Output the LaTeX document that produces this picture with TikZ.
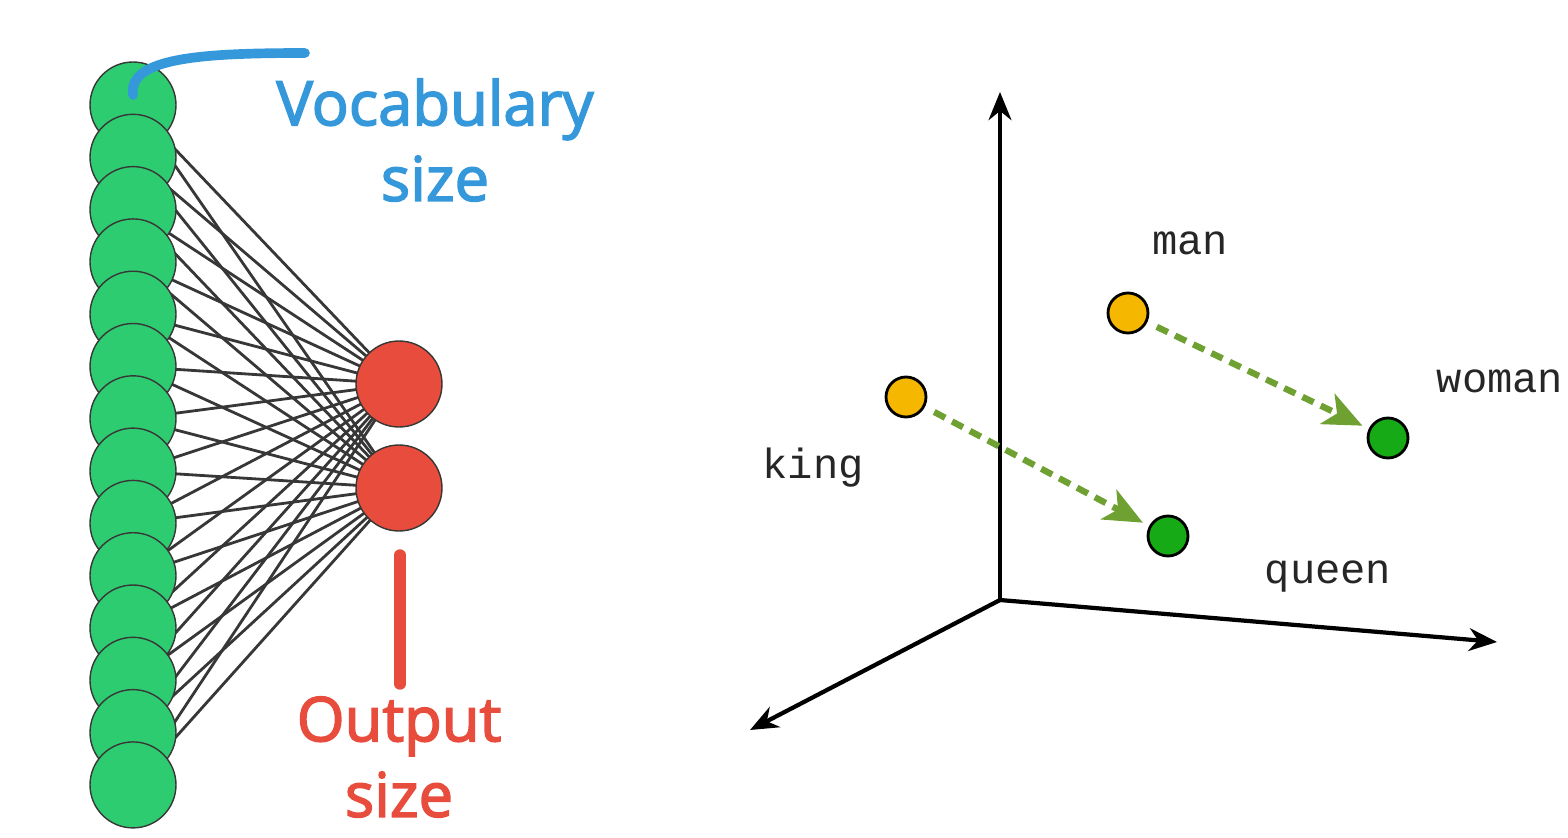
\documentclass[tikz,border=0pt]{standalone}
\usepackage{fontspec}
\setmainfont{Open Sans}
\setmonofont{Liberation Mono}
\newfontfamily\labelfont[FakeBold=2.5]{Open Sans}
\usetikzlibrary{arrows.meta,backgrounds}

\definecolor{vocabgreen}{RGB}{46,204,113}
\definecolor{outred}{RGB}{231,76,60}
\definecolor{labelblue}{RGB}{52,152,219}
\definecolor{wordorange}{RGB}{245,183,0}
\definecolor{wordgreen}{RGB}{22,170,22}
\definecolor{vecgreen}{RGB}{110,160,50}
\definecolor{edgegray}{RGB}{55,55,55}

\begin{document}
\begin{tikzpicture}[>={Stealth[length=16pt,width=13pt]},x=0.02cm,y=-0.02cm,
    vocab/.style={circle,draw=edgegray,line width=0.8pt,fill=vocabgreen,minimum size=1.72cm,inner sep=0pt},
    outnode/.style={circle,draw=edgegray,line width=0.8pt,fill=outred,minimum size=1.72cm,inner sep=0pt},
    edge/.style={edgegray,line width=1.6pt},
    wordpt/.style={circle,draw=black,line width=1.6pt,minimum size=0.8cm,inner sep=0pt},
    wordlbl/.style={font=\fontsize{24}{28}\selectfont\ttfamily,text=black!85},
    bigtxt/.style={font=\fontsize{35}{43}\selectfont\labelfont,align=center},
    axis/.style={->,line width=2.4pt},
    vecarrow/.style={-{Stealth[length=22pt,width=19pt,inset=6pt]},vecgreen,line width=3.6pt,
      dash pattern=on 7pt off 4.5pt,shorten <=6pt,shorten >=4pt}]
    \useasboundingbox (0,0) rectangle (1568,838);

    % Input layer (one-hot over the vocabulary)
    \foreach \i in {1,...,14}
      \node[vocab] (v\i) at (133,{105+52.3*(\i-1)}) {};
    % Output layer
    \node[outnode] (o1) at (399,384) {};
    \node[outnode] (o2) at (399,488) {};
    % Fully connected weights, behind the circles
    \begin{scope}[on background layer]
      \foreach \i in {1,...,14}
        \foreach \o in {o1,o2}
          \draw[edge] (v\i.center) -- (\o.center);
    \end{scope}

    % Callouts
    \coordinate (vstart) at (133,95);
    \coordinate (vend) at (305,53);
    \draw[labelblue,line width=5.5pt,line cap=round] (vstart) .. controls (128,58) and (200,53) .. (vend);
    \node[bigtxt,text=labelblue] (vocablbl) at (435,140) {Vocabulary\\size};
    \coordinate (bartop) at (400,555);
    \coordinate (barbot) at (400,684);
    \draw[outred,line width=6.5pt,line cap=round] (bartop) -- (barbot);
    \node[bigtxt,text=outred] (outlbl) at (399,757) {Output\\size};

    % Embedding space axes
    \coordinate (origin) at (1000,600);
    \coordinate (ytip) at (1000,92);
    \coordinate (xtip) at (1497,642);
    \coordinate (ztip) at (750,730);
    \draw[axis] (origin) -- (ytip);
    \draw[axis] (origin) -- (xtip);
    \draw[axis] (origin) -- (ztip);

    % Word vectors
    \node[wordpt,fill=wordorange] (king) at (906,397) {};
    \node[wordpt,fill=wordorange] (man) at (1128,313) {};
    \node[wordpt,fill=wordgreen] (queen) at (1168,536) {};
    \node[wordpt,fill=wordgreen] (woman) at (1388,438) {};
    \node[wordlbl] (lking) at (813,468) {king};
    \node[wordlbl] (lman) at (1190,243) {man};
    \node[wordlbl] (lqueen) at (1328,577) {queen};
    \node[wordlbl] (lwoman) at (1500,381) {woman};
    \draw[vecarrow] (king) -- (queen);
    \draw[vecarrow] (man) -- (woman);
\end{tikzpicture}
\end{document}
